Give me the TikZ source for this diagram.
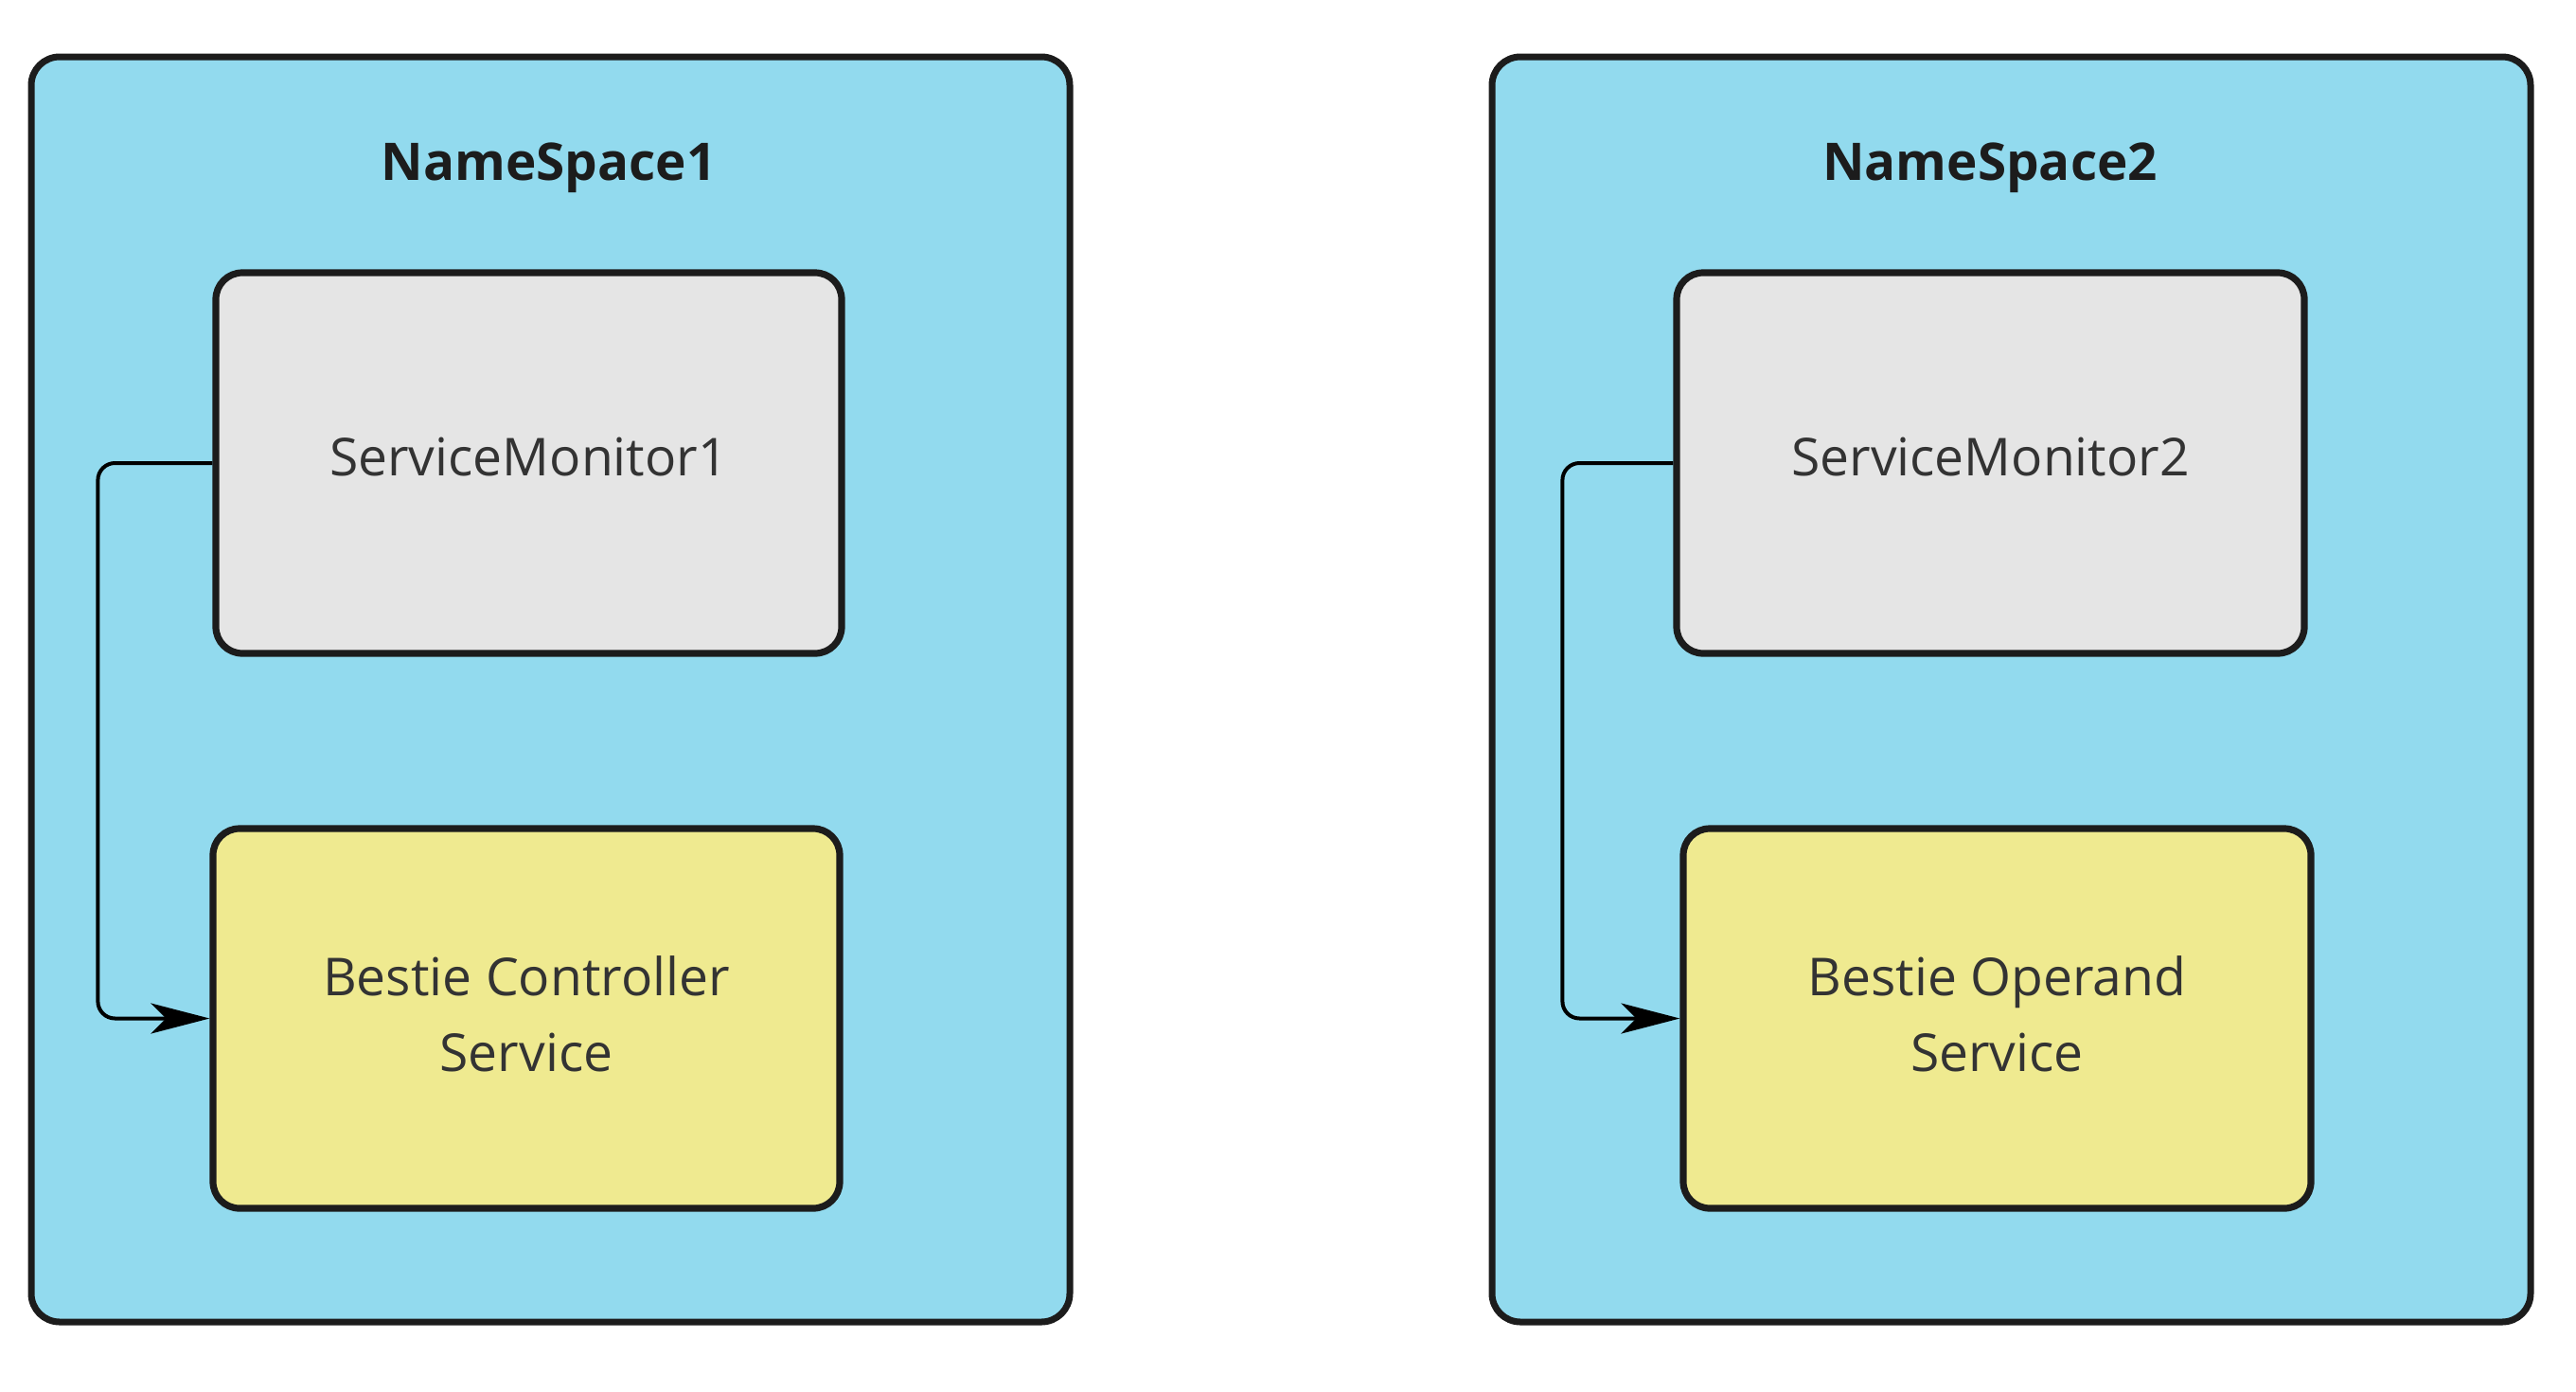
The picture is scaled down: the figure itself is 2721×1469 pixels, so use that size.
\documentclass[tikz,border=0pt]{standalone}
\usepackage{fontspec}
\setmainfont{Open Sans}
\usetikzlibrary{arrows.meta}
\definecolor{nsblue}{RGB}{146,218,238}
\definecolor{boxgray}{RGB}{229,229,229}
\definecolor{boxyellow}{RGB}{239,234,144}
\definecolor{edge}{RGB}{28,28,28}
\definecolor{txt}{RGB}{51,51,51}
\tikzset{
  nsbox/.style={draw=edge, fill=nsblue, line width=1.75pt, rounded corners=7.5pt, inner sep=0pt},
  inbox/.style={draw=edge, line width=1.8pt, rounded corners=7pt, align=center, text=txt,
    font=\fontsize{13.8}{20}\selectfont, inner sep=0pt},
  graybox/.style={inbox, fill=boxgray, text depth=3.5pt},
  yellowbox/.style={inbox, fill=boxyellow, text depth=2.5pt},
  nstitle/.style={font=\fontsize{13.7}{17}\selectfont\bfseries, text=edge, inner sep=0pt, anchor=base},
  conn/.style={draw=black, line width=1pt, rounded corners=4.5pt,
    -{Stealth[length=15.5pt,width=8pt,inset=4pt]}}
}
\begin{document}
\begin{tikzpicture}[x=0.25pt,y=-0.25pt]
\useasboundingbox (0,0) rectangle (2721,1469);
\fill[white] (0,0) rectangle (2721,1469);
% namespaces
\node[nsbox, minimum width=1097*0.25pt, minimum height=1336*0.25pt] (ns1) at (581.5,728) {};
\node[nsbox, minimum width=1097*0.25pt, minimum height=1336*0.25pt] (ns2) at (2124.5,728) {};
\node[nstitle] (t1) at (579.5,190) {NameSpace1};
\node[nstitle] (t2) at (2102,190) {NameSpace2};
% inner boxes
\node[graybox, minimum width=661*0.25pt, minimum height=402*0.25pt] (sm1) at (558.5,489) {ServiceMonitor1};
\node[yellowbox, minimum width=662*0.25pt, minimum height=401*0.25pt] (b1) at (556,1075.5) {Bestie Controller\\Service};
\node[graybox, minimum width=663*0.25pt, minimum height=402*0.25pt] (sm2) at (2102.5,489) {ServiceMonitor2};
\node[yellowbox, minimum width=663*0.25pt, minimum height=401*0.25pt] (b2) at (2109.5,1075.5) {Bestie Operand\\Service};
% connectors
\draw[conn] (sm1.west) -- ++(-121,0) |- (b1.west);
\draw[conn] (sm2.west) -- ++(-117,0) |- (b2.west);
\end{tikzpicture}
\end{document}
